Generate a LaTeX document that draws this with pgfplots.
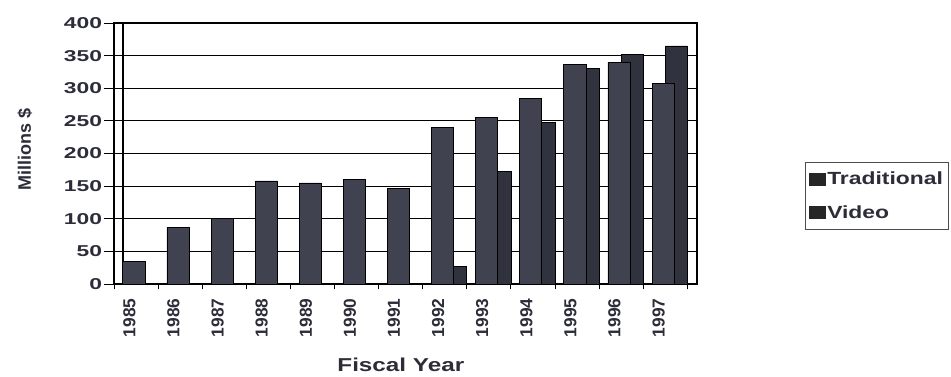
\documentclass[border=0pt]{standalone}
\usepackage{pgfplots}
\pgfplotsset{compat=1.18}
\usepackage{fontspec}
\setmainfont{Liberation Sans}
\newfontfamily\fytick{Liberation Sans}[FakeStretch=1.45]
\newfontfamily\fwide{Liberation Sans}[FakeStretch=1.3]
\newfontfamily\fleg{Liberation Sans}[FakeStretch=1.3]
\definecolor{barA}{RGB}{64,66,80}
\definecolor{barB}{RGB}{48,50,62}
\definecolor{txt}{RGB}{45,45,58}
\begin{document}
\begin{tikzpicture}[x=1pt,y=1pt]
\useasboundingbox (-85.5,-69.75) rectangle (627.75,213);
\begin{axis}[
  at={(0,0)}, anchor=south west,
  width=437.25pt, height=195.75pt, scale only axis,
  ymin=0, ymax=400, ytick={0,50,...,400},
  xmin=-0.5, xmax=12.72,
  xtick={-0.15,0.85,...,11.9},
  xticklabels={1985,1986,1987,1988,1989,1990,1991,1992,1993,1994,1995,1996,1997},
  minor xtick={-0.5,0.5,...,12.5},
  major x tick style={draw=none},
  minor tick length=4pt,
  major tick length=7.5pt,
  tick align=outside,
  xtick pos=bottom, ytick pos=left,
  ymajorgrids,
  grid style={black, line width=0.9pt},
  axis line style={black, line width=0.9pt},
  tick style={black, line width=0.6pt},
  /pgf/number format/assume math mode=true,
  xticklabel style={rotate=90, anchor=east, font=\bfseries\fontsize{13}{14}\selectfont, text=txt},
  yticklabel style={font=\fytick\bfseries\fontsize{11.8}{14}\selectfont, text=txt, xshift=2pt},
  ylabel={Millions \$},
  xlabel={Fiscal Year},
  every axis y label/.style={at={(axis description cs:-0.153,0.517)}, rotate=90, anchor=center, font=\bfseries\fontsize{13.5}{15}\selectfont, text=txt},
  every axis x label/.style={at={(axis description cs:0.492,-0.31)}, anchor=center, font=\fwide\bfseries\fontsize{14}{16}\selectfont, text=txt},
  legend style={at={(axis description cs:1.185,0.467)}, anchor=north west,
    draw=black!70, line width=0.6pt, font=\fleg\bfseries\fontsize{13.2}{15}\selectfont,
    text=txt, row sep=10pt, inner xsep=3pt, inner ysep=5pt, legend cell align=left,
    nodes={inner xsep=1pt}},
  legend image code/.code={\fill[black!85] (-1pt,-4.5pt) rectangle (11pt,4.5pt);},
]
\draw[black, line width=0.8pt] ([xshift=6.75pt]rel axis cs:0,0) -- ([xshift=6.75pt]rel axis cs:0,1);
\addplot[ybar, bar width=0.5, bar shift=0.25, fill=barB, draw=black, line width=0.5pt]
  coordinates {(7,27) (8,172) (9,247) (10,330) (11,352) (12,365)};
\addplot[ybar, bar width=0.5, bar shift=-0.05, fill=barA, draw=black, line width=0.5pt]
  coordinates {(0,35) (1,87) (2,100) (3,158) (4,155) (5,160) (6,147) (7,240) (8,255) (9,285) (10,337) (11,340) (12,308)};
\legend{Traditional,Video}
\end{axis}
\end{tikzpicture}
\end{document}
